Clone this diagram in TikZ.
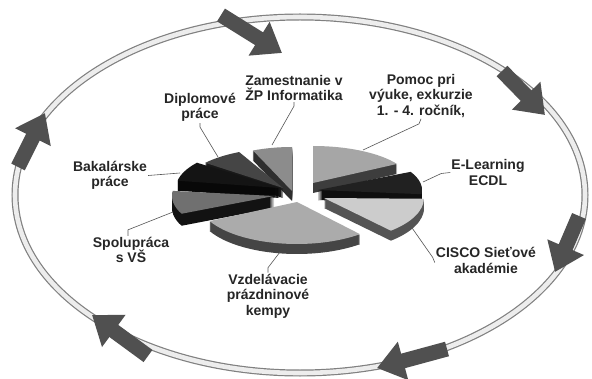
\documentclass[tikz,border=0pt]{standalone}
\usepackage{fontspec}
\setmainfont{Liberation Sans}
\usetikzlibrary{arrows.meta}
\definecolor{txt}{HTML}{262626}
\definecolor{ringedge}{HTML}{808080}
\definecolor{ringfill}{HTML}{EDEDED}
\definecolor{arrowc}{HTML}{505050}
\definecolor{leaderc}{HTML}{555555}
% pie slice: apex x, apex y, start, end, rx, ry, top colour, side colour, thickness
\newcommand\pieslice[9]{%
  \foreach \d in {1,...,#9}{%
    \fill[#8] ({#1+#5*cos(#3)},{#2-\d+#6*sin(#3)}) arc[start angle=#3,end angle=#4,x radius=#5,y radius=#6] -- (#1,{#2-\d}) -- cycle;
  }%
  \fill[#7] ({#1+#5*cos(#3)},{#2+#6*sin(#3)}) arc[start angle=#3,end angle=#4,x radius=#5,y radius=#6] -- (#1,#2) -- cycle;
}
\tikzset{
  lbl/.style={align=center, inner sep=1pt, text=txt, font=\fontsize{14}{15.5}\selectfont\bfseries},
  leader/.style={draw=leaderc, line width=0.6pt},
  bigarrow/.style={draw=arrowc, line width=15pt, -{Triangle[length=27pt,width=38pt]}},
}
\begin{document}
\begin{tikzpicture}[x=1pt,y=1pt]
\useasboundingbox (0,0) rectangle (592,378);
\fill[white] (0,0) rectangle (592,378);
% ring
\draw[ringedge, line width=7pt] (300,183) ellipse [x radius=285, y radius=178];
\draw[ringfill, line width=4.6pt] (300,183) ellipse [x radius=285, y radius=178];
% arrows on the ring
\coordinate (a1t) at (221,363); \coordinate (a1h) at (282,325);
\coordinate (a2t) at (502,307); \coordinate (a2h) at (545,263);
\coordinate (a3t) at (579,162); \coordinate (a3h) at (555,106);
\coordinate (a4t) at (447,29);  \coordinate (a4h) at (377,10);
\coordinate (a5t) at (148,22);  \coordinate (a5h) at (92,63);
\coordinate (a6t) at (18,211);  \coordinate (a6h) at (45,265);
\foreach \i in {1,...,6}{\draw[bigarrow] (a\i t) -- (a\i h);}
% pie slices (back to front)
\pieslice{292}{187}{90}{113}{100}{44}{black!45}{black!82}{10}   % Zamestnanie
\pieslice{313}{195}{31}{90}{98}{37}{black!35}{black!76}{10}     % Pomoc
\pieslice{283}{190}{116}{141}{100}{40}{black!73}{black!90}{10}  % Diplomove
\pieslice{318}{188}{-6}{27}{104}{40}{black!87}{black!94}{10}    % E-Learning
\pieslice{280}{190}{143}{170}{104}{42}{black!92}{black!97}{10}  % Bakalarske
\pieslice{274}{182}{173}{205}{102}{42}{black!56}{black!93}{12}  % Spolupraca
\pieslice{324}{180}{-48}{-1}{100}{44}{black!20}{black!67}{10}   % CISCO
\pieslice{297}{176}{207}{310}{98}{42}{black!33}{black!73}{10}   % Vzdelavacie
% labels
\node[lbl] (zam)    at (294,290)   {Zamestnanie v\\ŽP Informatika};
\node[lbl] (pomoc)  at (421,282)   {Pomoc pri\\výuke, exkurzie\\1. - 4. ročník,};
\node[lbl] (dipl)   at (200,270.5) {Diplomové\\práce};
\node[lbl] (bak)    at (110,202.5) {Bakalárske\\práce};
\node[lbl] (elearn) at (488,205.5) {E-Learning\\ECDL};
\node[lbl] (cisco)  at (486,117.5) {CISCO Sieťové\\akadémie};
\node[lbl] (spol)   at (131,128)   {Spolupráca\\s VŠ};
\node[lbl] (vzd)    at (268,82)    {Vzdelávacie\\prázdninové\\kempy};
% leader end points
\coordinate (zamp)   at (272,233);
\coordinate (diplp)  at (218,221);
\coordinate (pomp)   at (363,228);
\coordinate (elp)    at (423,196);
\coordinate (bakp)   at (180,205);
\coordinate (spolp)  at (173,166);
\coordinate (vzdp)   at (280,126);
\coordinate (ciscop) at (410,153);
\draw[leader] (zam.south) -- ++(0,-4) -- (zamp);
\draw[leader] (dipl.south) -- ++(0,-4) -- (diplp);
\draw[leader] (pomoc.south) -- ++(-2,-5) -- (pomp);
\draw[leader] (elearn.west) -- ++(-9,-1) -- (elp);
\draw[leader] (bak.east) -- (bakp);
\draw[leader] ([xshift=-3pt]spol.north) -- ++(0,6) -- (spolp);
\draw[leader] (vzd.north) -- ++(0,5) -- (vzdp);
\draw[leader] ([yshift=-2pt]cisco.west) -- ++(-2,5) -- (ciscop);
\end{tikzpicture}
\end{document}
